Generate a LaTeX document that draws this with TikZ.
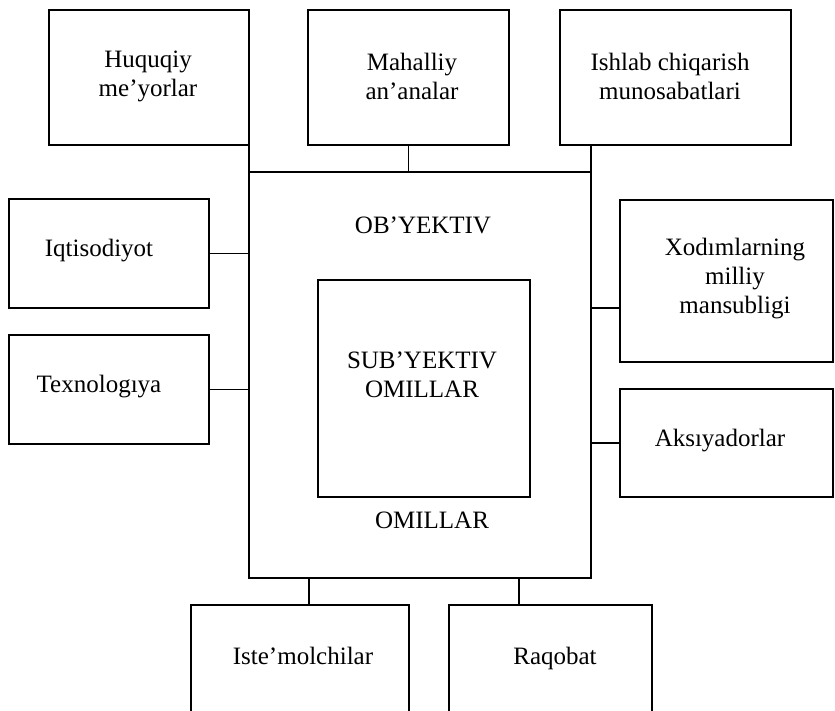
\documentclass[tikz,border=0pt]{standalone}
\usepackage{fontspec}
\setmainfont{Liberation Serif}
\begin{document}
\begin{tikzpicture}[x=1pt,y=-1pt,
  box/.style={draw, line width=1.3pt, rectangle, inner sep=0pt, outer sep=0pt},
  lbl/.style={font=\fontsize{25}{29}\selectfont, align=center, inner sep=0pt},
  conn/.style={line width=1.3pt}]
\useasboundingbox (0,0) rectangle (835,710);
% boxes
\node[box, minimum width=200pt, minimum height=135pt] (huq) at (149,77.5) {};
\node[box, minimum width=201pt, minimum height=135pt] (mah) at (408.5,77.5) {};
\node[box, minimum width=231pt, minimum height=135pt] (ish) at (675.5,77.5) {};
\node[box, minimum width=200pt, minimum height=109pt] (iqt) at (109,253.5) {};
\node[box, minimum width=200pt, minimum height=109pt] (tex) at (109,389.5) {};
\node[box, minimum width=213pt, minimum height=162pt] (xod) at (726.5,281) {};
\node[box, minimum width=213pt, minimum height=108pt] (aks) at (726.5,443) {};
\node[box, minimum width=342pt, minimum height=406pt] (big) at (420,375) {};
\node[box, minimum width=212pt, minimum height=217pt] (inner) at (424,388.5) {};
\node[box, minimum width=218pt, minimum height=115pt] (iste) at (300,662.5) {};
\node[box, minimum width=203pt, minimum height=115pt] (raq) at (550.5,662.5) {};
% texts
\node[lbl] (huqt) at (148,76) {Huquqiy\\me’yorlar};
\node[lbl] (maht) at (412,76) {Mahalliy\\an’analar};
\node[lbl] (isht) at (670,76) {Ishlab chiqarish\\munosabatlari};
\node[lbl] (iqtt) at (99,251) {Iqtisodiyot};
\node[lbl] (text) at (99,387) {Texnologıya};
\node[lbl] (xodt) at (735,279) {Xodımlarning\\milliy\\mansubligi};
\node[lbl] (akst) at (720,441) {Aksıyadorlar};
\node[lbl] (obt) at (423,225) {OB’YEKTIV};
\node[lbl] (subt) at (422,375) {SUB’YEKTIV\\OMILLAR};
\node[lbl] (omt) at (432,520) {OMILLAR};
\node[lbl, anchor=base] (istet) at (303,664) {Iste’molchilar};
\node[lbl, anchor=base] (raqt) at (555,664) {Raqobat};
% connector helpers
\coordinate (xodc) at (0,308);
\coordinate (istec) at (309,0);
\coordinate (raqc) at (519,0);
% connectors
\draw[conn] (huq.south east) -- (big.north west);
\draw[conn] (mah.south) -- (mah.south |- big.north);
\draw[conn] (big.north east) -- (big.north east |- ish.south);
\draw[conn] (iqt.east) -- (iqt.east -| big.west);
\draw[conn] (tex.east) -- (tex.east -| big.west);
\draw[conn] (big.east |- xodc) -- (xod.west |- xodc);
\draw[conn] (aks.west) -- (aks.west -| big.east);
\draw[conn] (big.south -| istec) -- (iste.north -| istec);
\draw[conn] (big.south -| raqc) -- (raq.north -| raqc);
\end{tikzpicture}
\end{document}
